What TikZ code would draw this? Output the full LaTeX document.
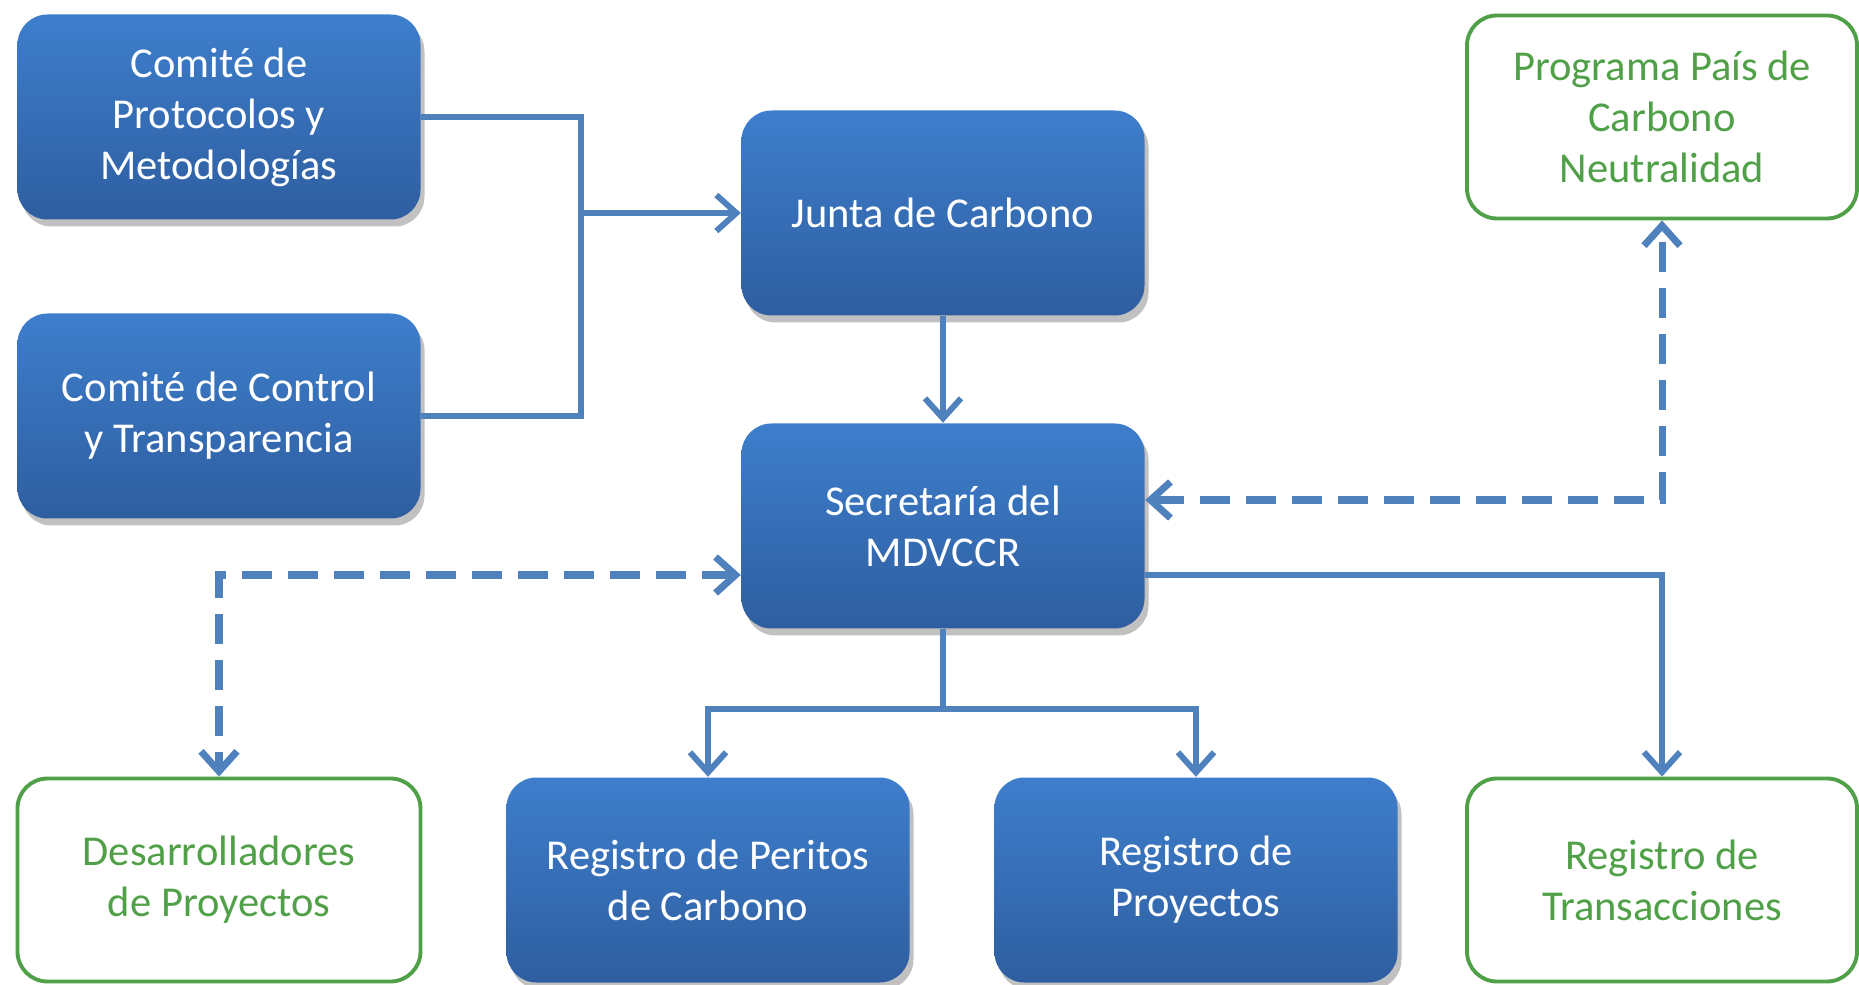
\documentclass[tikz,border=0pt]{standalone}
\usepackage{fontspec}
\setmainfont{Carlito}
\usetikzlibrary{arrows.meta,shadows}
\definecolor{boxtop}{RGB}{62,126,204}
\definecolor{boxbot}{RGB}{46,94,160}
\definecolor{linkblue}{RGB}{79,129,189}
\definecolor{leafgreen}{RGB}{80,160,72}
\begin{document}
\begin{tikzpicture}[font=\fontsize{12.1}{14.5}\selectfont,
	box/.style={rounded corners=3mm,minimum width=4.03cm,minimum height=2.05cm,align=center,text=white,top color=boxtop,bottom color=boxbot,drop shadow={shadow xshift=0.4mm,shadow yshift=-0.7mm,opacity=0.35,fill=black!70}},
	ext/.style={rounded corners=3mm,minimum width=3.9cm,minimum height=2.03cm,align=center,text=leafgreen,draw=leafgreen,line width=1.1pt,fill=white},
	tip/.style={Straight Barb[length=2mm,width=3.6mm]},
	link/.style={draw=linkblue,line width=1.7pt,-{Straight Barb[length=2mm,width=3.6mm]}},
	dlink/.style={link,{Straight Barb[length=2mm,width=3.6mm]}-{Straight Barb[length=2mm,width=3.6mm]},line width=2pt,dash pattern=on 3mm off 1.6mm}]
	\useasboundingbox (0,0) rectangle (18.59,-9.85);
	\node[box] (cpm) at (2.19,-1.17) {Comité de\\Protocolos y\\Metodologías};
	\node[box] (cct) at (2.19,-4.16) {Comité de Control\\y Transparencia};
	\node[box] (junta) at (9.43,-2.13) {Junta de Carbono};
	\node[box] (sec) at (9.43,-5.26) {Secretaría del\\MDVCCR};
	\node[ext] (ppcn) at (16.62,-1.17) {Programa País de\\Carbono\\Neutralidad};
	\node[ext,minimum width=4.03cm] (dev) at (2.19,-8.80) {Desarrolladores\\de Proyectos};
	\node[box] (rpc) at (7.08,-8.80) {Registro de Peritos\\de Carbono};
	\node[box] (rp) at (11.96,-8.80) {Registro de\\Proyectos};
	\node[ext] (rt) at (16.62,-8.80) {Registro de\\Transacciones};
	% comites -> junta
	\path (junta.west) ++(-1.6,0) coordinate (fork);
	\draw[link,-] (cpm.east) -| (fork |- cct.east) -- (cct.east);
	\draw[link] (fork) -- (junta.west);
	\draw[link] (junta.south) -- (sec.north);
	% secretaria -> registros
	\draw[link,-] (sec.south) -- ++(0,-0.8) coordinate (split);
	\foreach \i in {rpc,rp}\draw[link] (split) -| (\i.north);
	\draw[link] ([yshift=-4.9mm]sec.east) -| (rt.north);
	\draw[dlink] ([yshift=2.6mm]sec.east) -| (ppcn.south);
	\draw[dlink] ([yshift=-4.9mm]sec.west) -| (dev.north);
\end{tikzpicture}
\end{document}
